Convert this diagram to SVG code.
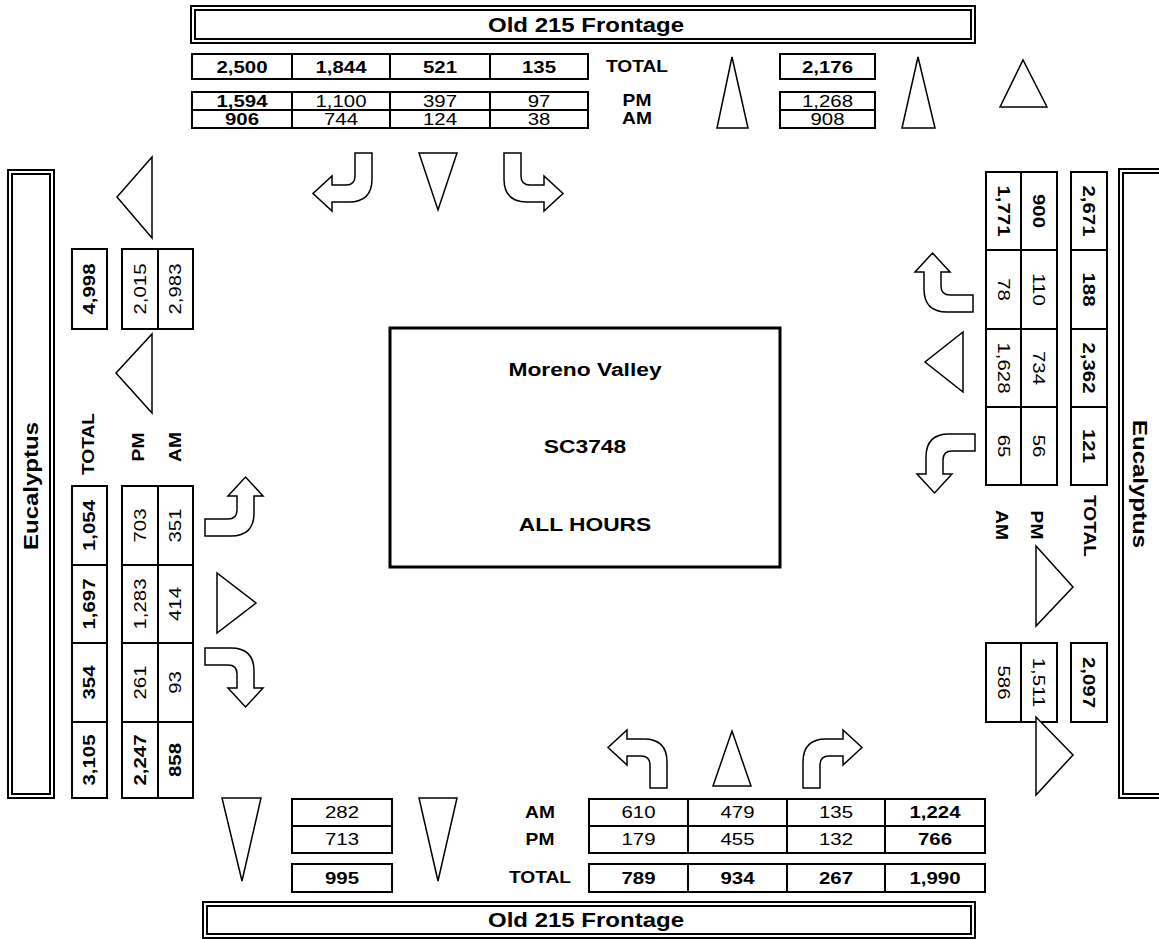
<svg xmlns="http://www.w3.org/2000/svg" width="1159" height="939" viewBox="0 0 1159 939">
<defs>
<style>
.box{fill:#fff;stroke:#000;stroke-width:2}
.dbl{fill:none;stroke:#000;stroke-width:2}
.ln{stroke:#000;stroke-width:2}
.sh{fill:#fff;stroke:#000;stroke-width:1.5;stroke-linejoin:miter}
.t{font-family:"Liberation Sans",Arial,sans-serif;font-size:17px;text-anchor:middle;dominant-baseline:central;fill:#000}
.b{font-weight:bold}
.l{font-size:16px;font-weight:bold}
.big{font-size:20px;font-weight:bold}
.ctr{font-size:19px;font-weight:bold}
</style>
<path id="turn" class="sh" d="M42,0 H59 V26 Q59,49 36,49 H19 V58 L0,40.5 L19,23 V32 H33 Q42,32 42,23 Z"/>
</defs>
<rect width="1159" height="939" fill="#fff"/>

<g id="north-street">
<rect x="191" y="6" width="784" height="37" class="dbl"/>
<rect x="195" y="10" width="776" height="29" class="dbl"/>
<text transform="translate(586,25) scale(1.2 1)" class="t big">Old 215 Frontage</text>
</g>

<g id="north-approach">
<rect x="192" y="54" width="396" height="25" class="box"/>
<path class="ln" d="M292,54V79M390,54V79M490,54V79"/>
<text transform="translate(242,67) scale(1.2 1)" class="t b">2,500</text>
<text transform="translate(341,67) scale(1.2 1)" class="t b">1,844</text>
<text transform="translate(440,67) scale(1.2 1)" class="t b">521</text>
<text transform="translate(539,67) scale(1.2 1)" class="t b">135</text>
<text transform="translate(637,67) scale(1.2 1)" class="t l">TOTAL</text>
<rect x="192" y="92" width="396" height="36" class="box"/>
<path class="ln" d="M192,110H588M292,92V128M390,92V128M490,92V128"/>
<text transform="translate(242,101) scale(1.2 1)" class="t b">1,594</text>
<text transform="translate(341,101) scale(1.2 1)" class="t">1,100</text>
<text transform="translate(440,101) scale(1.2 1)" class="t">397</text>
<text transform="translate(539,101) scale(1.2 1)" class="t">97</text>
<text transform="translate(242,119) scale(1.2 1)" class="t b">906</text>
<text transform="translate(341,119) scale(1.2 1)" class="t">744</text>
<text transform="translate(440,119) scale(1.2 1)" class="t">124</text>
<text transform="translate(539,119) scale(1.2 1)" class="t">38</text>
<text transform="translate(637,101) scale(1.2 1)" class="t l">PM</text>
<text transform="translate(637,119) scale(1.2 1)" class="t l">AM</text>
</g>

<g id="north-departure">
<rect x="780" y="54" width="95" height="25" class="box"/>
<text transform="translate(827.5,67) scale(1.2 1)" class="t b">2,176</text>
<rect x="780" y="92" width="95" height="36" class="box"/>
<path class="ln" d="M780,110H875"/>
<text transform="translate(827.5,101) scale(1.2 1)" class="t">1,268</text>
<text transform="translate(827.5,119) scale(1.2 1)" class="t">908</text>
</g>

<g id="west-street">
<rect x="8" y="170" width="46" height="628" class="dbl"/>
<rect x="12" y="174" width="38" height="620" class="dbl"/>
<text transform="translate(31,486) rotate(-90) scale(1.2 1)" class="t big">Eucalyptus</text>
</g>

<g id="west-departure">
<rect x="72" y="249" width="35" height="80" class="box"/>
<text transform="translate(89.5,289) rotate(-90) scale(1.2 1)" class="t b">4,998</text>
<rect x="122" y="249" width="71" height="80" class="box"/>
<path class="ln" d="M158,249V329"/>
<text transform="translate(140,289) rotate(-90) scale(1.2 1)" class="t">2,015</text>
<text transform="translate(175.5,289) rotate(-90) scale(1.2 1)" class="t">2,983</text>
</g>

<g id="west-approach">
<text transform="translate(89,444) rotate(-90) scale(1.2 1)" class="t l">TOTAL</text>
<text transform="translate(139,447) rotate(-90) scale(1.2 1)" class="t l">PM</text>
<text transform="translate(176,447) rotate(-90) scale(1.2 1)" class="t l">AM</text>
<rect x="72" y="486" width="35" height="312" class="box"/>
<path class="ln" d="M72,565H107M72,643H107M72,722H107"/>
<text transform="translate(89.5,525.5) rotate(-90) scale(1.2 1)" class="t b">1,054</text>
<text transform="translate(89.5,604) rotate(-90) scale(1.2 1)" class="t b">1,697</text>
<text transform="translate(89.5,682.5) rotate(-90) scale(1.2 1)" class="t b">354</text>
<text transform="translate(89.5,760) rotate(-90) scale(1.2 1)" class="t b">3,105</text>
<rect x="122" y="486" width="71" height="312" class="box"/>
<path class="ln" d="M158,486V798M122,565H193M122,643H193M122,722H193"/>
<text transform="translate(140,525.5) rotate(-90) scale(1.2 1)" class="t">703</text>
<text transform="translate(140,604) rotate(-90) scale(1.2 1)" class="t">1,283</text>
<text transform="translate(140,682.5) rotate(-90) scale(1.2 1)" class="t">261</text>
<text transform="translate(140,760) rotate(-90) scale(1.2 1)" class="t b">2,247</text>
<text transform="translate(175.5,525.5) rotate(-90) scale(1.2 1)" class="t">351</text>
<text transform="translate(175.5,604) rotate(-90) scale(1.2 1)" class="t">414</text>
<text transform="translate(175.5,682.5) rotate(-90) scale(1.2 1)" class="t">93</text>
<text transform="translate(175.5,760) rotate(-90) scale(1.2 1)" class="t b">858</text>
</g>

<g id="east-street">
<rect x="1119" y="169" width="46" height="629" class="dbl"/>
<rect x="1123" y="173" width="38" height="621" class="dbl"/>
<text transform="translate(1140,484) rotate(90) scale(1.2 1)" class="t big">Eucalyptus</text>
</g>

<g id="east-approach">
<rect x="986" y="172" width="71" height="313" class="box"/>
<path class="ln" d="M1021,172V485M986,250H1057M986,329H1057M986,407H1057"/>
<text transform="translate(1003.5,211) rotate(90) scale(1.2 1)" class="t b">1,771</text>
<text transform="translate(1003.5,289.5) rotate(90) scale(1.2 1)" class="t">78</text>
<text transform="translate(1003.5,368) rotate(90) scale(1.2 1)" class="t">1,628</text>
<text transform="translate(1003.5,446) rotate(90) scale(1.2 1)" class="t">65</text>
<text transform="translate(1039,211) rotate(90) scale(1.2 1)" class="t b">900</text>
<text transform="translate(1039,289.5) rotate(90) scale(1.2 1)" class="t">110</text>
<text transform="translate(1039,368) rotate(90) scale(1.2 1)" class="t">734</text>
<text transform="translate(1039,446) rotate(90) scale(1.2 1)" class="t">56</text>
<rect x="1071" y="172" width="36" height="313" class="box"/>
<path class="ln" d="M1071,250H1107M1071,329H1107M1071,407H1107"/>
<text transform="translate(1089,211) rotate(90) scale(1.2 1)" class="t b">2,671</text>
<text transform="translate(1089,289.5) rotate(90) scale(1.2 1)" class="t b">188</text>
<text transform="translate(1089,368) rotate(90) scale(1.2 1)" class="t b">2,362</text>
<text transform="translate(1089,446) rotate(90) scale(1.2 1)" class="t b">121</text>
<text transform="translate(1001,525) rotate(90) scale(1.2 1)" class="t l">AM</text>
<text transform="translate(1036,525) rotate(90) scale(1.2 1)" class="t l">PM</text>
<text transform="translate(1089,526) rotate(90) scale(1.2 1)" class="t l">TOTAL</text>
</g>

<g id="east-departure">
<rect x="986" y="643" width="71" height="79" class="box"/>
<path class="ln" d="M1021,643V722"/>
<text transform="translate(1003.5,682.5) rotate(90) scale(1.2 1)" class="t">586</text>
<text transform="translate(1039,682.5) rotate(90) scale(1.2 1)" class="t">1,511</text>
<rect x="1071" y="643" width="36" height="79" class="box"/>
<text transform="translate(1089,682.5) rotate(90) scale(1.2 1)" class="t b">2,097</text>
</g>

<g id="south-departure">
<rect x="292" y="799" width="100" height="54" class="box"/>
<path class="ln" d="M292,826H392"/>
<text transform="translate(342,812.5) scale(1.2 1)" class="t">282</text>
<text transform="translate(342,839.5) scale(1.2 1)" class="t">713</text>
<rect x="292" y="864" width="100" height="28" class="box"/>
<text transform="translate(342,878) scale(1.2 1)" class="t b">995</text>
</g>

<g id="south-approach">
<text transform="translate(540,812.5) scale(1.2 1)" class="t l">AM</text>
<text transform="translate(540,839.5) scale(1.2 1)" class="t l">PM</text>
<text transform="translate(540,878) scale(1.2 1)" class="t l">TOTAL</text>
<rect x="589" y="799" width="396" height="54" class="box"/>
<path class="ln" d="M589,826H985M688,799V853M787,799V853M885,799V853"/>
<text transform="translate(638.5,812.5) scale(1.2 1)" class="t">610</text>
<text transform="translate(737.5,812.5) scale(1.2 1)" class="t">479</text>
<text transform="translate(836,812.5) scale(1.2 1)" class="t">135</text>
<text transform="translate(935,812.5) scale(1.2 1)" class="t b">1,224</text>
<text transform="translate(638.5,839.5) scale(1.2 1)" class="t">179</text>
<text transform="translate(737.5,839.5) scale(1.2 1)" class="t">455</text>
<text transform="translate(836,839.5) scale(1.2 1)" class="t">132</text>
<text transform="translate(935,839.5) scale(1.2 1)" class="t b">766</text>
<rect x="589" y="864" width="396" height="28" class="box"/>
<path class="ln" d="M688,864V892M787,864V892M885,864V892"/>
<text transform="translate(638.5,878) scale(1.2 1)" class="t b">789</text>
<text transform="translate(737.5,878) scale(1.2 1)" class="t b">934</text>
<text transform="translate(836,878) scale(1.2 1)" class="t b">267</text>
<text transform="translate(935,878) scale(1.2 1)" class="t b">1,990</text>
</g>

<g id="south-street">
<rect x="203" y="902" width="772" height="36" class="dbl"/>
<rect x="207" y="906" width="764" height="28" class="dbl"/>
<text transform="translate(586,920) scale(1.2 1)" class="t big">Old 215 Frontage</text>
</g>

<g id="intersection">
<rect x="390" y="328" width="390" height="239" fill="#fff" stroke="#000" stroke-width="3"/>
<text transform="translate(585,369) scale(1.2 1)" class="t ctr">Moreno Valley</text>
<text transform="translate(585,446) scale(1.2 1)" class="t ctr">SC3748</text>
<text transform="translate(585,524) scale(1.2 1)" class="t ctr">ALL HOURS</text>
</g>

<g id="connectors">
<use href="#turn" transform="translate(313,153)"/>
<polygon class="sh" points="419,153 457,153 438,210"/>
<use href="#turn" transform="translate(563,153) scale(-1,1)"/>
<polygon class="sh" points="717,128 748,128 732,57"/>
<polygon class="sh" points="902,128 935,128 918,57"/>
<polygon class="sh" points="1000,107 1047,107 1023,60"/>
<polygon class="sh" points="152,157 152,238 117,197"/>
<polygon class="sh" points="152,334 152,413 116,373"/>
<use href="#turn" transform="matrix(0 1 1 0 205 477)"/>
<polygon class="sh" points="217,573 217,633 256,603"/>
<use href="#turn" transform="matrix(0 -1 1 0 205 707)"/>
<use href="#turn" transform="matrix(0 1 -1 0 973 253)"/>
<polygon class="sh" points="963,332 963,392 925,362"/>
<use href="#turn" transform="matrix(0 -1 -1 0 975 493)"/>
<polygon class="sh" points="1036,546 1036,626 1073,587"/>
<polygon class="sh" points="1036,717 1036,795 1073,755"/>
<polygon class="sh" points="222,798 261,798 242,881"/>
<polygon class="sh" points="419,798 457,798 438,881"/>
<use href="#turn" transform="translate(608,788) scale(1,-1)"/>
<polygon class="sh" points="713,786 751,786 732,731"/>
<use href="#turn" transform="translate(862,788) scale(-1,-1)"/>
</g>
</svg>
